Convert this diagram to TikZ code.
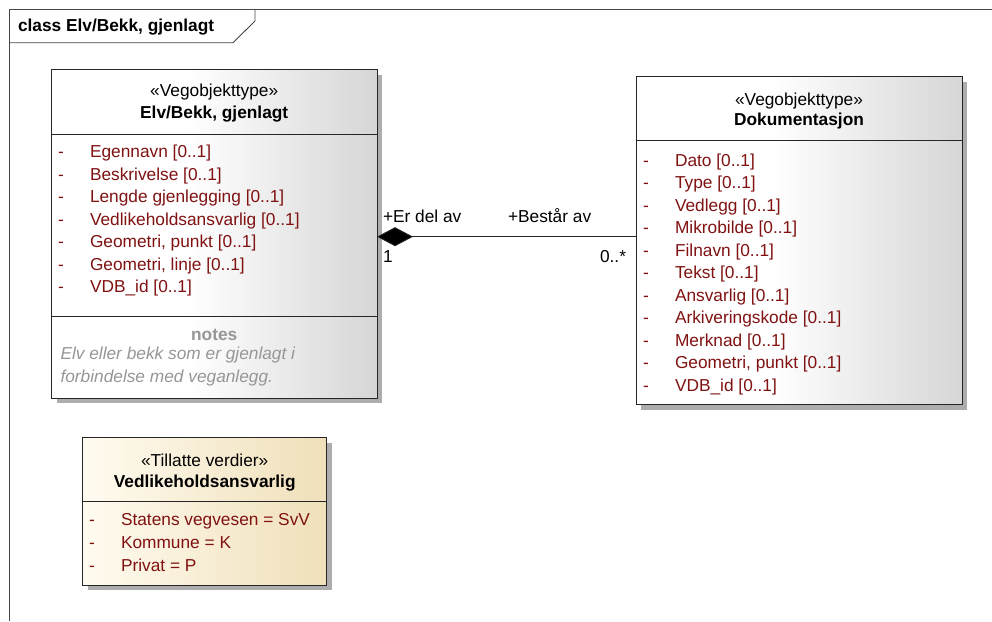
\documentclass[tikz,border=0pt]{standalone}
\usepackage{fontspec}
\setmainfont{Liberation Sans}
\usetikzlibrary{arrows.meta,shadows}

\definecolor{attrred}{RGB}{128,18,18}
\definecolor{notegray}{RGB}{150,150,150}
\definecolor{framegray}{RGB}{70,70,70}
\definecolor{enumleft}{RGB}{255,251,240}
\definecolor{enumright}{RGB}{240,224,186}
\definecolor{classright}{RGB}{214,214,214}

% white over the left half, then fading to grey towards the right edge
\pgfdeclarehorizontalshading{classshade}{100bp}{color(0bp)=(white); color(46bp)=(white); color(75bp)=(classright); color(100bp)=(classright)}
\pgfdeclarehorizontalshading{enumshade}{100bp}{color(0bp)=(enumleft); color(25bp)=(enumleft); color(75bp)=(enumright); color(100bp)=(enumright)}

\begin{document}
\begin{tikzpicture}[x=1pt,y=-1pt,
  txt/.style={font=\fontsize{17.3}{22.5}\selectfont},
  every node/.style={inner sep=0pt, outer sep=0pt, txt},
  boxbase/.style={draw=black!85, line width=0.9pt, anchor=north west,
    drop shadow={shadow xshift=5pt, shadow yshift=-5pt, fill=black!32, opacity=1}},
  classbox/.style={boxbase, shading=classshade, shading angle=0},
  enumbox/.style={boxbase, shading=enumshade, shading angle=0},
  sep/.style={draw=black!85, line width=0.9pt},
  stereo/.style={anchor=base},
  cname/.style={anchor=base, font=\fontsize{17.3}{22.5}\selectfont\bfseries},
  dashmark/.style={anchor=base west, text=attrred},
  attr/.style={anchor=base west, text=attrred},
  notehead/.style={anchor=base, text=notegray, font=\fontsize{17.3}{22.5}\selectfont\bfseries},
  notetext/.style={anchor=base west, text=notegray, font=\fontsize{17.3}{22.5}\selectfont\itshape},
  role/.style={anchor=base west},
  frameline/.style={draw=framegray, line width=0.9pt},
  assoc/.style={draw=black!85, line width=0.9pt}
]
\useasboundingbox (0,0) rectangle (992,621);

% diagram frame with title tab
\draw[frameline] (9.5,621) -- (9.5,9.5) -- (992,9.5);
\draw[frameline] (9.5,42.7) -- (233,42.7) -- (255,21) -- (255,9.5);
\node[anchor=base west, font=\fontsize{17.3}{22.5}\selectfont\bfseries] (title) at (18,31.7) {class Elv/Bekk, gjenlagt};

% ---- Elv/Bekk, gjenlagt ----
\node[classbox, minimum width=325.5pt, minimum height=328.5pt] (elv) at (51.5,69.5) {};
\draw[sep] (51.5,134) -- (377,134);
\draw[sep] (51.5,316) -- (377,316);
\node[stereo] (elvst) at (214.2,96.7) {«Vegobjekttype»};
\node[cname] (elvnm) at (214.2,118) {Elv/Bekk, gjenlagt};
\node[dashmark] (ed1) at (58,157.5) {-};
\node[attr] (ea1) at (90,157.5) {Egennavn [0..1]};
\node[dashmark] (ed2) at (58,180) {-};
\node[attr] (ea2) at (90,180) {Beskrivelse [0..1]};
\node[dashmark] (ed3) at (58,202.5) {-};
\node[attr] (ea3) at (90,202.5) {Lengde gjenlegging [0..1]};
\node[dashmark] (ed4) at (58,225) {-};
\node[attr] (ea4) at (90,225) {Vedlikeholdsansvarlig [0..1]};
\node[dashmark] (ed5) at (58,247.5) {-};
\node[attr] (ea5) at (90,247.5) {Geometri, punkt [0..1]};
\node[dashmark] (ed6) at (58,270) {-};
\node[attr] (ea6) at (90,270) {Geometri, linje [0..1]};
\node[dashmark] (ed7) at (58,292.5) {-};
\node[attr] (ea7) at (90,292.5) {VDB\_id [0..1]};
\node[notehead] (elvnotes) at (214.2,340) {notes};
\node[notetext] (elvn1) at (60.5,359) {Elv eller bekk som er gjenlagt i};
\node[notetext] (elvn2) at (60.5,382) {forbindelse med veganlegg.};

% ---- Dokumentasjon ----
\node[classbox, minimum width=326pt, minimum height=328pt] (dok) at (636,76.5) {};
\draw[sep] (636,140.7) -- (962,140.7);
\node[stereo] (dokst) at (799,105) {«Vegobjekttype»};
\node[cname] (doknm) at (799,125.5) {Dokumentasjon};
\node[dashmark] (dd1) at (643,166) {-};
\node[attr] (da1) at (675,166) {Dato [0..1]};
\node[dashmark] (dd2) at (643,188.5) {-};
\node[attr] (da2) at (675,188.5) {Type [0..1]};
\node[dashmark] (dd3) at (643,211) {-};
\node[attr] (da3) at (675,211) {Vedlegg [0..1]};
\node[dashmark] (dd4) at (643,233.5) {-};
\node[attr] (da4) at (675,233.5) {Mikrobilde [0..1]};
\node[dashmark] (dd5) at (643,256) {-};
\node[attr] (da5) at (675,256) {Filnavn [0..1]};
\node[dashmark] (dd6) at (643,278.5) {-};
\node[attr] (da6) at (675,278.5) {Tekst [0..1]};
\node[dashmark] (dd7) at (643,301) {-};
\node[attr] (da7) at (675,301) {Ansvarlig [0..1]};
\node[dashmark] (dd8) at (643,323.5) {-};
\node[attr] (da8) at (675,323.5) {Arkiveringskode [0..1]};
\node[dashmark] (dd9) at (643,346) {-};
\node[attr] (da9) at (675,346) {Merknad [0..1]};
\node[dashmark] (dd10) at (643,368.5) {-};
\node[attr] (da10) at (675,368.5) {Geometri, punkt [0..1]};
\node[dashmark] (dd11) at (643,391) {-};
\node[attr] (da11) at (675,391) {VDB\_id [0..1]};

% ---- Vedlikeholdsansvarlig (enumeration) ----
\node[enumbox, minimum width=244pt, minimum height=147.5pt] (ved) at (82.7,437.5) {};
\draw[sep] (82.7,501.7) -- (326.7,501.7);
\node[stereo] (vedst) at (204.7,466) {«Tillatte verdier»};
\node[cname] (vednm) at (204.7,487) {Vedlikeholdsansvarlig};
\node[dashmark] (vd1) at (89,525) {-};
\node[attr] (va1) at (121,525) {Statens vegvesen = SvV};
\node[dashmark] (vd2) at (89,548.3) {-};
\node[attr] (va2) at (121,548.3) {Kommune = K};
\node[dashmark] (vd3) at (89,571.7) {-};
\node[attr] (va3) at (121,571.7) {Privat = P};

% ---- composition: Dokumentasjon is part of Elv/Bekk ----
\coordinate (assocy) at (500,236.7);
\draw[assoc, {Diamond[length=36pt,width=19pt,fill=black]}-] (elv.east |- assocy) -- (dok.west |- assocy);
\node[role] (r1) at (383,222.3) {+Er del av};
\node[role] (r2) at (508,222.3) {+Består av};
\node[role] (m1) at (383,262.7) {1};
\node[anchor=base east] (m2) at (626,262.7) {0..*};
\end{tikzpicture}
\end{document}
